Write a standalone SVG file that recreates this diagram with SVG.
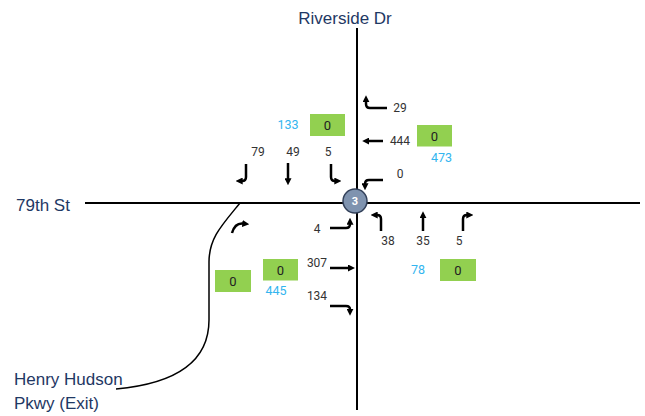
<svg xmlns="http://www.w3.org/2000/svg" width="645" height="416" viewBox="0 0 645 416">
<style>
.road{stroke:#000;stroke-width:2;fill:none}
.arr{stroke:#000;stroke-width:2.5;fill:none;marker-end:url(#ah)}
.street{font-family:"Liberation Sans",Arial,sans-serif;font-size:17px;fill:#1f3864}
.num{font-family:Roboto,"Liberation Sans",sans-serif;font-size:12px;fill:#333;text-anchor:middle}
.cy{font-family:Roboto,"Liberation Sans",sans-serif;font-size:12.5px;fill:#33b5ef;text-anchor:middle}
.box{fill:#92d050}
.bt{font-family:Roboto,"Liberation Sans",sans-serif;font-size:13px;fill:#222;text-anchor:middle}
</style>
<defs>
<marker id="ah" markerUnits="userSpaceOnUse" markerWidth="7" markerHeight="7" viewBox="0 0 10 10" refX="1" refY="5" orient="auto">
<path d="M0,0 L10,5 L0,10 z" fill="#000"/>
</marker>
</defs>
<rect width="645" height="416" fill="#fff"/>
<g id="roads">
<line class="road" x1="357" y1="28" x2="357" y2="410"/>
<line class="road" x1="85" y1="203" x2="640" y2="203"/>
<path class="road" d="M240,203 C222,225 209,238 209,262 L209,320 C209,370 160,385 116,389" style="stroke-width:1.5"/>
</g>
<g id="labels">
<text class="street" x="345" y="24" text-anchor="middle">Riverside Dr</text>
<text class="street" x="16" y="211">79th St</text>
<text class="street" x="14" y="385">Henry Hudson</text>
<text class="street" x="14" y="409">Pkwy (Exit)</text>
</g>
<g id="connectors">
<path class="arr" d="M387,108 H370 Q366,108 366,104 L366,101.5"/>
<path class="arr" d="M383,141 L368.5,141"/>
<path class="arr" d="M383,180 H369 Q365,180 365,184"/>
<path class="arr" d="M246,164 V177 Q246,181 242,181"/>
<path class="arr" d="M288,163 L288,179"/>
<path class="arr" d="M331,164 V177 Q331,181 335,181"/>
<path class="arr" d="M330,228 H346 Q350,228 350,224"/>
<path class="arr" d="M330,268 L348.7,268"/>
<path class="arr" d="M330,306 H346 Q350,306 350,309.5"/>
<path class="arr" d="M381,231 V219 Q381,215 377,215"/>
<path class="arr" d="M423,231 L423,217.5"/>
<path class="arr" d="M463,231 V219 Q463,215 467,215"/>
<path class="arr" d="M232,233 C234,226 238,223 243,223.5"/>
</g>
<g id="volumes">
<text class="num" x="400" y="112">29</text>
<text class="num" x="400" y="145">444</text>
<text class="num" x="400" y="178">0</text>
<text class="num" x="258" y="156">79</text>
<text class="num" x="293" y="156">49</text>
<text class="num" x="328" y="156">5</text>
<text class="num" x="317" y="233">4</text>
<text class="num" x="317" y="267">307</text>
<text class="num" x="317" y="300">134</text>
<text class="num" x="388" y="245">38</text>
<text class="num" x="423" y="245">35</text>
<text class="num" x="459" y="245">5</text>
</g>
<g id="box-n">
<rect class="box" x="310" y="114" width="35" height="22"/>
<text class="bt" x="327.5" y="129.5">0</text>
<text class="cy" x="288" y="129">133</text>
</g>
<g id="box-e">
<rect class="box" x="417" y="125" width="35" height="21.5"/>
<text class="bt" x="434.5" y="140.5">0</text>
<text class="cy" x="441.5" y="161.5">473</text>
</g>
<g id="box-s">
<rect class="box" x="440" y="259" width="36" height="22"/>
<text class="bt" x="458" y="274.5">0</text>
<text class="cy" x="418" y="274">78</text>
</g>
<g id="box-w">
<rect class="box" x="263" y="259" width="35" height="21.5"/>
<text class="bt" x="280.5" y="274.5">0</text>
<text class="cy" x="276" y="295">445</text>
</g>
<g id="box-ramp">
<rect class="box" x="215" y="270" width="36" height="22"/>
<text class="bt" x="233" y="285.5">0</text>
</g>
<g id="node-3">
<circle cx="355" cy="201" r="12" fill="#7f93af" stroke="#33415a" stroke-width="1.5"/>
<text x="355" y="205" text-anchor="middle" font-family="Roboto,'Liberation Sans',sans-serif" font-size="11" font-weight="bold" fill="#fff">3</text>
</g>
</svg>
